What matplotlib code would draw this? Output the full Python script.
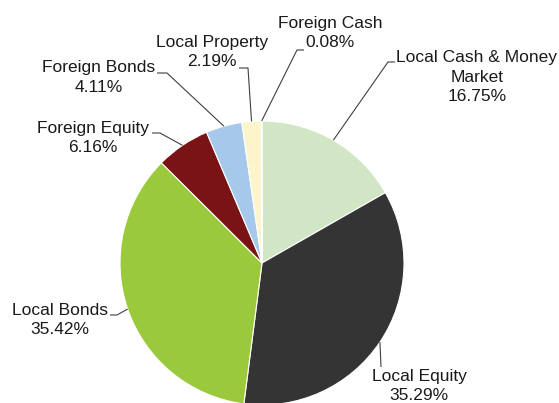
import numpy as np
import matplotlib
matplotlib.use('Agg')
import matplotlib.pyplot as plt

plt.rcParams['font.family'] = ['Liberation Sans', 'DejaVu Sans']

# 数据
labels = ['Local Cash & Money\nMarket', 'Local Equity', 'Local Bonds', 'Foreign Equity',
          'Foreign Bonds', 'Local Property', 'Foreign Cash']
values = [16.75, 35.29, 35.42, 6.16, 4.11, 2.19, 0.08]
colors = ['#d1e6c5', '#333433', '#9bc93c', '#7a1315', '#a6c9eb', '#fcf5cc', '#f0c4c4']

# 图在像素坐标里画 (y 向上)
W, H = 559, 403
cx, cy, r = 262, H - 263, 142

fig = plt.figure(figsize=(W / 100, H / 100), dpi=100)
ax = fig.add_axes([0, 0, 1, 1])
wedges, _ = ax.pie(values, colors=colors, startangle=90, counterclock=False,
                   center=(cx, cy), radius=r,
                   wedgeprops=dict(edgecolor='white', linewidth=0.8))
ax.set_xlim(0, W)
ax.set_ylim(0, H)
ax.set_aspect('equal')
ax.axis('off')

# 标签位置 (文字中心) 和引线折点, 像素坐标 (y 向下)
text_pos = [(477, 77), (419, 386), (60, 320), (93, 138), (99, 77.5), (212, 52), (330, 33)]
elbows = [[(388, 62), (395, 62)],
          [(381, 367)],
          [(117, 315), (110, 315)],
          [(160, 133), (152, 133)],
          [(167, 73), (157, 73)],
          [(248, 68), (239, 68)],
          [(297, 50), (304, 50)]]

for w, lab, v, tp, el in zip(wedges, labels, values, text_pos, elbows):
    ang = np.deg2rad((w.theta1 + w.theta2) / 2)
    px = cx + r * np.cos(ang)
    py = cy + r * np.sin(ang)
    xs = [px] + [p[0] for p in el]
    ys = [py] + [H - p[1] for p in el]
    ax.plot(xs, ys, color='#404040', lw=0.8, solid_capstyle='butt')
    ax.text(tp[0], H - tp[1], f'{lab}\n{v:.2f}%', ha='center', va='center',
            fontsize=12.5, color='#1a1a1a', linespacing=1.36)

fig.savefig('out.png', dpi=100)
